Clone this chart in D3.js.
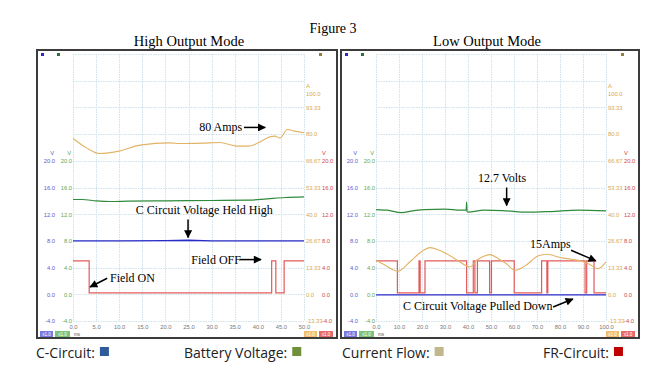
<!DOCTYPE html>
<html><head><meta charset="utf-8">
<script src="https://cdn.jsdelivr.net/npm/d3@7"></script>
<style>
html,body{margin:0;padding:0;background:#fff;}
svg{display:block;}
</style></head><body>
<svg id="c" width="667" height="381"></svg>
<script>
// ---------------- data ----------------
const figureTitle = "Figure 3";
const panelTitles = ["High Output Mode", "Low Output Mode"];
const timeTicksHigh = [0, 5, 10, 15, 20, 25, 30, 35, 40, 45, 50];
const timeTicksLow = [0, 10, 20, 30, 40, 50, 60, 70, 80, 90, 100];
const voltTicks = [-4, 0, 4, 8, 12, 16, 20];
const voltTickLabels = ["-4.0", "0.0", "4.0", "8.0", "12.0", "16.0", "20.0"];
const ampTicks = [-13.333, 0, 13.333, 26.667, 40, 53.333, 66.667, 80, 93.333, 100];
const ampTickLabels = ["-13.33", "0.0", "13.33", "26.67", "40.0", "53.33", "66.67", "80.0", "93.33", "100.0"];

// High Output Mode (0-50 ms)
const hiCTime  = [0, 10, 20, 25, 30, 40, 50];
const hiCVolts = [8.0, 8.0, 8.05, 8.1, 8.0, 8.0, 8.0];
const hiBattTime  = [0, 2, 5, 8, 12, 20, 30, 38, 42, 46, 50];
const hiBattVolts = [14.2, 14.2, 14.0, 13.9, 13.95, 14.0, 14.05, 14.1, 14.3, 14.5, 14.6];
const hiAmpTime = [0, 3, 5.8, 10, 14.5, 21, 23.2, 28, 31.8, 35.4, 37.9, 40, 42.6, 43.7, 44.8, 46.4, 48, 50];
const hiAmps    = [77.8, 73, 70.3, 71.5, 74.5, 75.6, 75.3, 75.5, 75.8, 74, 74, 75.5, 78.6, 79, 78, 82.3, 81.5, 80.7];
const hiFRTime  = [0, 3.5, 43.0, 43.9, 45.7, 50];
const hiFRVolts = [5.0, 0.2, 5.0, 0.2, 5.0, 5.0];

// Low Output Mode (0-100 ms)
const loCTime  = [0, 25, 50, 75, 100];
const loCVolts = [-0.1, -0.1, -0.1, -0.1, -0.1];
const loBattTime  = [0, 5, 11, 16, 21, 30, 37, 39.2, 39.4, 39.6, 40, 47, 55, 66, 76, 88, 100];
const loBattVolts = [12.7, 12.6, 12.25, 12.5, 12.7, 12.75, 12.6, 12.6, 13.8, 12.4, 12.3, 12.6, 12.55, 12.3, 12.4, 12.6, 12.5];
const loAmpTime = [0, 4, 9.5, 15, 20, 23.5, 27, 30.7, 35, 39.4, 40.9, 43.8, 47.4, 49.6, 53.2, 57, 60.4, 64.8, 70.6, 74.2, 80.7, 85, 89.4, 92.3, 96.6, 100];
const loAmps    = [17, 14.5, 11.5, 16.5, 21.5, 23.3, 22.3, 20.3, 17.3, 14.2, 13.7, 17, 19.2, 19.8, 17.8, 15, 12, 14.2, 19.2, 20, 18.2, 17.5, 16.5, 15.3, 12.8, 16.2];
const loFRTime  = [0, 9.3, 18.7, 19.2, 21.3, 39.4, 42.3, 43.0, 44.1, 49.4, 50.2, 60.1, 72.0, 74.3, 74.7, 90.9, 91.6, 94.8, 100];
const loFRVolts = [5, 0.2, 5, 0.2, 5, 0.2, 5, 0.2, 5, 0.2, 5, 0.2, 5, 0.2, 5, 0.2, 5, 0.2, 0.2];

const legendNames  = ["C-Circuit:", "Battery Voltage:", "Current Flow:", "FR-Circuit:"];
const legendColors = ["#2f5b9b", "#70913a", "#c2b68c", "#c00000"];

// ---------------- drawing ----------------
const svg = d3.select("#c");
const zip = (a, b) => a.map((v, i) => [v, b[i]]);

const C = { blue: "#2a2ac8", green: "#2f8a3c", amber: "#e2b365", red: "#e04848",
            blueT: "#5b5bd0", greenT: "#5aa85a", amberT: "#d8a848", redT: "#d04848" };

const defs = svg.append("defs");
defs.append("marker").attr("id", "ah").attr("viewBox", "0 0 10 10")
  .attr("refX", 9).attr("refY", 5).attr("markerWidth", 9).attr("markerHeight", 8)
  .attr("markerUnits", "userSpaceOnUse").attr("orient", "auto")
  .append("path").attr("d", "M0,0 L10,5 L0,10 z").attr("fill", "#000");

svg.append("text").attr("x", 333).attr("y", 33).attr("text-anchor", "middle")
  .attr("font-family", "Liberation Serif").attr("font-size", 14).text(figureTitle);

const panels = [
  { title: panelTitles[0], tx: 189, fx0: 37, fx1: 337, x0: 73, x1: 304, domain: [0, 50], ticks: timeTicksHigh,
    series: { c: zip(hiCTime, hiCVolts), batt: zip(hiBattTime, hiBattVolts), amp: zip(hiAmpTime, hiAmps), fr: zip(hiFRTime, hiFRVolts) },
    notes: [
      { text: "80 Amps", t: 27.3, v: 24.4, arrow: [37.0, 25.0, 41.6, 25.0] },
      { text: "C Circuit Voltage Held High", t: 13.6, v: 12.0, arrow: [24.9, 11.2, 24.9, 8.5] },
      { text: "Field ON", t: 8.0, v: 1.8, arrow: [7.4, 2.4, 3.7, 1.1] },
      { text: "Field OFF", t: 25.6, v: 4.6, arrow: [36.1, 5.2, 40.7, 5.2] }
    ] },
  { title: panelTitles[1], tx: 487, fx0: 341, fx1: 639, x0: 376, x1: 606, domain: [0, 100], ticks: timeTicksLow,
    series: { c: zip(loCTime, loCVolts), batt: zip(loBattTime, loBattVolts), amp: zip(loAmpTime, loAmps), fr: zip(loFRTime, loFRVolts) },
    notes: [
      { text: "12.7 Volts", t: 44.3, v: 16.8, arrow: [56.8, 16.0, 56.8, 13.3] },
      { text: "15Amps", t: 67.0, v: 6.9, arrow: [84.8, 6.6, 95.6, 5.0] },
      { text: "C Circuit Voltage Pulled Down", t: 11.7, v: -2.4, arrow: [77.0, -1.9, 85.6, -0.7] }
    ] }
];

panels.forEach(p => {
  const g = svg.append("g");
  const x = d3.scaleLinear().domain(p.domain).range([p.x0, p.x1]);
  const y = d3.scaleLinear().domain([-4, 36]).range([321, 54]);
  const ya = d3.scaleLinear().domain([-13.333, 120]).range([321, 54]);

  g.append("text").attr("x", p.tx).attr("y", 46).attr("text-anchor", "middle")
    .attr("font-family", "Liberation Serif").attr("font-size", 14.5).text(p.title);

  g.append("rect").attr("x", p.fx0).attr("y", 50).attr("width", p.fx1 - p.fx0).attr("height", 288)
    .attr("fill", "#fff").attr("stroke", "#3c3c3c").attr("stroke-width", 2);

  // grid
  const grid = g.append("g").attr("stroke", "#cfe3ea").attr("stroke-width", 1).attr("stroke-dasharray", "1.5,1");
  grid.selectAll("line.v").data(p.ticks).join("line")
    .attr("x1", d => Math.round(x(d)) + 0.5).attr("x2", d => Math.round(x(d)) + 0.5).attr("y1", 54).attr("y2", 321);
  grid.selectAll("line.h").data(d3.range(-4, 37, 4)).join("line").attr("class", "h")
    .attr("x1", p.x0).attr("x2", p.x1).attr("y1", d => Math.round(y(d)) + 0.5).attr("y2", d => Math.round(y(d)) + 0.5);

  // axes
  const styleAxis = (sel, color) => {
    sel.select(".domain").remove();
    sel.selectAll("text").attr("fill", color).attr("font-family", "Liberation Sans").attr("font-size", 5.8);
  };
  const vfmt = d => voltTickLabels[voltTicks.indexOf(d)];
  g.append("g").attr("transform", `translate(${p.x0 - 17},0)`)
    .call(d3.axisLeft(y).tickValues(voltTicks).tickFormat(vfmt).tickSize(0).tickPadding(1))
    .call(s => styleAxis(s, C.blueT));
  g.append("g").attr("transform", `translate(${p.x0},0)`)
    .call(d3.axisLeft(y).tickValues(voltTicks).tickFormat(vfmt).tickSize(0).tickPadding(1))
    .call(s => styleAxis(s, C.greenT));
  g.append("g").attr("transform", `translate(${p.x1},0)`)
    .call(d3.axisRight(ya).tickValues(ampTicks).tickFormat(d => ampTickLabels[ampTicks.indexOf(d)]).tickSize(0).tickPadding(2))
    .call(s => styleAxis(s, C.amberT));
  g.append("g").attr("transform", `translate(${p.x1 + 16},0)`)
    .call(d3.axisRight(y).tickValues(voltTicks).tickFormat(vfmt).tickSize(0).tickPadding(2))
    .call(s => styleAxis(s, C.redT));
  g.append("g").attr("transform", `translate(0,321)`)
    .call(d3.axisBottom(x).tickValues(p.ticks).tickFormat(d3.format(".1f")).tickSize(0).tickPadding(4))
    .call(s => styleAxis(s, "#777"));

  // unit labels
  const unit = (tx, ty, t, col, anchor) => g.append("text").attr("x", tx).attr("y", ty).attr("text-anchor", anchor)
    .attr("font-family", "Liberation Sans").attr("font-size", 5.8).attr("fill", col).text(t);
  unit(p.x0 - 19, y(20) - 6, "V", C.blueT, "end");
  unit(p.x0 - 2, y(20) - 6, "V", C.greenT, "end");
  unit(p.x1 + 2, ya(100) - 6, "A", C.amberT, "start");
  unit(p.x1 + 18, y(20) - 6, "V", C.redT, "start");

  // channel markers
  const mk = (mx, col) => g.append("rect").attr("x", mx).attr("y", 53).attr("width", 3).attr("height", 3).attr("fill", col);
  mk(p.fx0 + 4, C.blue); mk(p.fx0 + 20, "#2f6e3a"); mk(p.fx1 - 18, "#9c7a3a");

  // bottom badges
  const badge = (bx, w, col, t) => {
    g.append("rect").attr("x", bx).attr("y", 331).attr("width", w).attr("height", 6).attr("fill", col);
    g.append("text").attr("x", bx + w / 2).attr("y", 336).attr("text-anchor", "middle")
      .attr("font-family", "Liberation Sans").attr("font-size", 4.5).attr("fill", "#fff").text(t);
  };
  badge(p.fx0 + 3, 13, "#7a7ae0", "x1.0");
  badge(p.fx0 + 18, 15, "#7cc47c", "x1.0");
  g.append("text").attr("x", p.fx0 + 37).attr("y", 336).attr("font-family", "Liberation Sans")
    .attr("font-size", 4.5).attr("fill", "#555").text("ms");
  badge(p.fx1 - 33, 13, "#f0c070", "x1.0");
  badge(p.fx1 - 18, 14, "#e86a6a", "x1.0");

  // traces
  const lineV = d3.line().x(d => x(d[0])).y(d => y(d[1]));
  const lineA = d3.line().x(d => x(d[0])).y(d => ya(d[1])).curve(d3.curveMonotoneX);
  const lineB = d3.line().x(d => x(d[0])).y(d => y(d[1])).curve(d3.curveMonotoneX);
  const lineS = d3.line().x(d => x(d[0])).y(d => y(d[1])).curve(d3.curveStepAfter);
  g.append("path").attr("d", lineB(p.series.batt)).attr("fill", "none").attr("stroke", C.green).attr("stroke-width", 1.2);
  g.append("path").attr("d", lineV(p.series.c)).attr("fill", "none").attr("stroke", C.blue).attr("stroke-width", 1.3);
  g.append("path").attr("d", lineS(p.series.fr)).attr("fill", "none").attr("stroke", C.red).attr("stroke-width", 1.2).attr("stroke-opacity", 0.9);
  g.append("path").attr("d", lineA(p.series.amp)).attr("fill", "none").attr("stroke", C.amber).attr("stroke-width", 1.1);

  // annotations
  p.notes.forEach(n => {
    g.append("text").attr("x", x(n.t)).attr("y", y(n.v)).attr("font-family", "Liberation Serif")
      .attr("font-size", 12).attr("fill", "#000").text(n.text);
    const a = n.arrow;
    g.append("line").attr("x1", x(a[0])).attr("y1", y(a[1])).attr("x2", x(a[2])).attr("y2", y(a[3]))
      .attr("stroke", "#000").attr("stroke-width", 1.5).attr("marker-end", "url(#ah)");
  });
});

// legend
const lx = [36, 184, 342, 543];
const lg = svg.append("g");
legendNames.forEach((nm, i) => {
  const t = lg.append("text").attr("x", lx[i]).attr("y", 358).attr("font-family", "Open Sans")
    .attr("font-size", 14).attr("fill", "#222").text(nm);
  const w = t.node().getComputedTextLength();
  lg.append("rect").attr("x", lx[i] + w + 5).attr("y", 347).attr("width", 9).attr("height", 9).attr("fill", legendColors[i]);
});
</script>
</body></html>
